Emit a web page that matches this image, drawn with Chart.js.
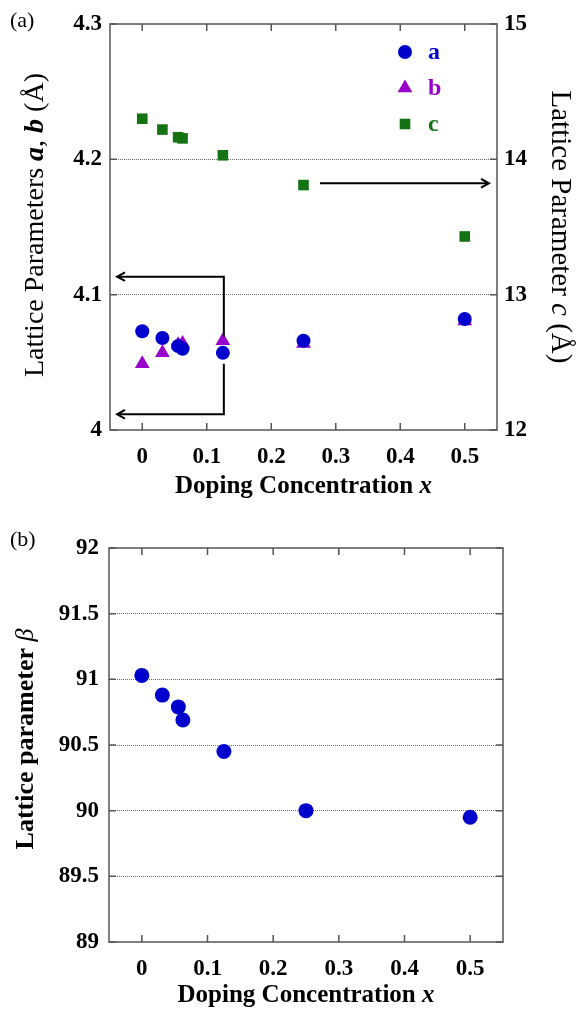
<!DOCTYPE html>
<html>
<head>
<meta charset="utf-8">
<script src="https://cdn.jsdelivr.net/npm/chart.js@4.4.0/dist/chart.umd.min.js"></script>
<style>
  body { margin: 0; background: #fff; }
  .panel { position: absolute; left: 0; width: 585px; }
  #top { top: 0; height: 505px; }
  #bottom { top: 505px; height: 506px; }
</style>
</head>
<body>
<div class="panel" id="top"><canvas id="chartA"></canvas></div>
<div class="panel" id="bottom"><canvas id="chartB"></canvas></div>
<script>
// doping concentration x and the fitted lattice constants
const doping = [0, 0.03125, 0.0556, 0.0625, 0.125, 0.25, 0.5];
const latticeA = [4.073, 4.068, 4.062, 4.060, 4.057, 4.066, 4.082];
const latticeB = [4.049, 4.057, 4.063, 4.064, 4.066, 4.064, 4.0805];
const latticeC = [14.30, 14.22, 14.163, 14.155, 14.03, 13.81, 13.43];
const beta = [91.03, 90.88, 90.79, 90.69, 90.45, 90.00, 89.95];

const xTicks = [0, 0.1, 0.2, 0.3, 0.4, 0.5];
const abTicks = [4, 4.1, 4.2, 4.3];
const cTicks = [12, 13, 14, 15];
const betaTicks = [89, 89.5, 90, 90.5, 91, 91.5, 92];

const BLUE = '#0000cd';
const PURPLE = '#9a00cc';
const GREEN = '#137313';
const SERIF = '"Liberation Serif", "Times New Roman", serif';
const tickFont = { family: SERIF, size: 23, weight: 'bold' };

function fixedTicks(values) {
  return scale => { scale.ticks = values.map(v => ({ value: v })); };
}

// dotted grid only between the outer ticks
function innerGrid(min, max) {
  return c => (c.tick && c.tick.value > min && c.tick.value < max) ? '#6b6b6b' : 'rgba(0,0,0,0)';
}

function points(ys) {
  return doping.map((x, i) => ({ x: x, y: ys[i] }));
}

function richText(ctx, parts, x, y, angle, size, weight) {
  ctx.save();
  ctx.translate(x, y);
  ctx.rotate(angle);
  const fonts = parts.map(p => (p.italic ? 'italic ' : '') + (p.weight || weight) + ' ' + size + 'px ' + SERIF);
  let total = 0;
  const widths = parts.map((p, i) => {
    ctx.font = fonts[i];
    const w = ctx.measureText(p.text).width;
    total += w;
    return w;
  });
  ctx.fillStyle = '#000';
  ctx.textAlign = 'left';
  ctx.textBaseline = 'alphabetic';
  let cx = -total / 2;
  parts.forEach((p, i) => {
    ctx.font = fonts[i];
    ctx.fillText(p.text, cx, 0);
    cx += widths[i];
  });
  ctx.restore();
}

function marker(ctx, style, x, y, r, color) {
  ctx.fillStyle = color;
  ctx.beginPath();
  if (style === 'circle') {
    ctx.arc(x, y, r, 0, Math.PI * 2);
  } else if (style === 'triangle') {
    ctx.moveTo(x, y - r);
    ctx.lineTo(x + r * 0.866, y + r * 0.5);
    ctx.lineTo(x - r * 0.866, y + r * 0.5);
    ctx.closePath();
  } else {
    const s = r * Math.SQRT1_2;
    ctx.rect(x - s, y - s, 2 * s, 2 * s);
  }
  ctx.fill();
}

function arrow(ctx, pts) {
  ctx.beginPath();
  ctx.moveTo(pts[0][0], pts[0][1]);
  for (let i = 1; i < pts.length; i++) ctx.lineTo(pts[i][0], pts[i][1]);
  ctx.stroke();
  const [x1, y1] = pts[pts.length - 2];
  const [x2, y2] = pts[pts.length - 1];
  const ang = Math.atan2(y2 - y1, x2 - x1);
  ctx.beginPath();
  ctx.moveTo(x2 - 9 * Math.cos(ang - 0.5), y2 - 9 * Math.sin(ang - 0.5));
  ctx.lineTo(x2, y2);
  ctx.lineTo(x2 - 9 * Math.cos(ang + 0.5), y2 - 9 * Math.sin(ang + 0.5));
  ctx.stroke();
}

// frame, inward ticks, titles, legend and arrows for one panel
function makeDecor(cfg) {
  return {
    id: 'decor',
    beforeDatasetsDraw(chart) {
      const { ctx, chartArea: a, scales } = chart;
      ctx.save();
      ctx.strokeStyle = '#555';
      ctx.lineWidth = 1.5;
      ctx.strokeRect(a.left, a.top, a.right - a.left, a.bottom - a.top);
      ctx.beginPath();
      scales.x.ticks.forEach(t => {
        const px = scales.x.getPixelForValue(t.value);
        ctx.moveTo(px, a.bottom); ctx.lineTo(px, a.bottom - 7);
        ctx.moveTo(px, a.top); ctx.lineTo(px, a.top + 7);
      });
      scales.y.ticks.forEach(t => {
        const py = scales.y.getPixelForValue(t.value);
        ctx.moveTo(a.left, py); ctx.lineTo(a.left + 7, py);
        ctx.moveTo(a.right, py); ctx.lineTo(a.right - 7, py);
      });
      ctx.stroke();
      ctx.restore();
    },
    afterDraw(chart) {
      const { ctx, chartArea: a } = chart;
      ctx.save();
      ctx.font = '22px ' + SERIF;
      ctx.fillStyle = '#000';
      ctx.textAlign = 'left';
      ctx.textBaseline = 'alphabetic';
      ctx.fillText(cfg.letter, 10, cfg.letterY);

      const midX = (a.left + a.right) / 2;
      const midY = (a.top + a.bottom) / 2;
      cfg.titles.forEach(t => {
        const shift = t.shift || 0;
        if (t.side === 'bottom') richText(ctx, t.parts, midX + shift, a.bottom + t.offset, 0, t.size, t.weight);
        if (t.side === 'left') richText(ctx, t.parts, a.left - t.offset, midY + shift, -Math.PI / 2, t.size, t.weight);
        if (t.side === 'right') richText(ctx, t.parts, a.right + t.offset, midY + shift, Math.PI / 2, t.size, t.weight);
      });

      if (cfg.legend) {
        const lx = a.right - cfg.legend.right;
        chart.data.datasets.forEach((ds, i) => {
          const ly = a.top + cfg.legend.top + i * cfg.legend.gap;
          marker(ctx, ds.pointStyle, lx, ly, ds.pointRadius, ds.backgroundColor);
          ctx.font = 'bold 24px ' + SERIF;
          ctx.fillStyle = ds.backgroundColor;
          ctx.textBaseline = 'middle';
          ctx.fillText(ds.label, lx + 23, ly + 1);
        });
      }

      ctx.strokeStyle = '#000';
      ctx.lineWidth = 2;
      (cfg.arrows || []).forEach(ar => {
        const sx = chart.scales.x, sy = chart.scales[ar.axis];
        arrow(ctx, ar.path.map(p => [sx.getPixelForValue(p[0]), sy.getPixelForValue(p[1])]));
      });
      ctx.restore();
    }
  };
}

function xScale(height) {
  return {
    type: 'linear', min: -0.05, max: 0.55,
    afterBuildTicks: fixedTicks(xTicks),
    afterFit: s => { s.height = height; },
    grid: { display: false },
    border: { display: false },
    ticks: { font: tickFont, color: '#000', padding: 5, callback: v => String(v) }
  };
}

Chart.defaults.font.family = SERIF;

new Chart(document.getElementById('chartA'), {
  type: 'scatter',
  data: {
    datasets: [
      { label: 'a', data: points(latticeA), yAxisID: 'y', pointStyle: 'circle', pointRadius: 7,
        backgroundColor: BLUE, borderColor: BLUE, borderWidth: 0 },
      { label: 'b', data: points(latticeB), yAxisID: 'y', pointStyle: 'triangle', pointRadius: 8.5,
        backgroundColor: PURPLE, borderColor: PURPLE, borderWidth: 0 },
      { label: 'c', data: points(latticeC), yAxisID: 'y1', pointStyle: 'rect', pointRadius: 7.5,
        backgroundColor: GREEN, borderColor: GREEN, borderWidth: 0 }
    ]
  },
  options: {
    responsive: true, maintainAspectRatio: false, animation: false, devicePixelRatio: 1,
    layout: { padding: { top: 24, left: 0, right: 0, bottom: 0 } },
    plugins: { legend: { display: false }, tooltip: { enabled: false } },
    scales: {
      x: xScale(75),
      y: {
        position: 'left', min: 4, max: 4.3,
        afterBuildTicks: fixedTicks(abTicks),
        afterFit: s => { s.width = 110; },
        grid: { color: innerGrid(4, 4.3), lineWidth: 1, drawTicks: false },
        border: { display: false, dash: [1, 1] },
        ticks: { font: tickFont, color: '#000', padding: 8, callback: v => String(v) }
      },
      y1: {
        position: 'right', min: 12, max: 15,
        afterBuildTicks: fixedTicks(cTicks),
        afterFit: s => { s.width = 88; },
        grid: { drawOnChartArea: false, drawTicks: false },
        border: { display: false },
        ticks: { font: tickFont, color: '#000', padding: 7, callback: v => String(v) }
      }
    }
  },
  plugins: [makeDecor({
    letter: '(a)', letterY: 27,
    titles: [
      { side: 'bottom', offset: 63, size: 25, weight: 'bold',
        parts: [{ text: 'Doping Concentration ' }, { text: 'x', italic: true }] },
      { side: 'left', offset: 67, size: 28, weight: 'normal', shift: -2,
        parts: [{ text: 'Lattice Parameters ' }, { text: 'a', italic: true, weight: 'bold' }, { text: ', ' },
                { text: 'b', italic: true, weight: 'bold' }, { text: ' (Å)' }] },
      { side: 'right', offset: 55, size: 29, weight: 'normal',
        parts: [{ text: 'Lattice Parameter ' }, { text: 'c', italic: true }, { text: ' (Å)' }] }
    ],
    legend: { right: 92, top: 28, gap: 36 },
    arrows: [
      { axis: 'y', path: [[0.1265, 4.069], [0.1265, 4.1133], [-0.039, 4.1133]] },
      { axis: 'y', path: [[0.1265, 4.049], [0.1265, 4.0116], [-0.039, 4.0116]] },
      { axis: 'y1', path: [[0.2755, 13.823], [0.5375, 13.823]] }
    ]
  })]
});

new Chart(document.getElementById('chartB'), {
  type: 'scatter',
  data: {
    datasets: [
      { label: 'β', data: points(beta), pointStyle: 'circle', pointRadius: 7.5,
        backgroundColor: BLUE, borderColor: BLUE, borderWidth: 0 }
    ]
  },
  options: {
    responsive: true, maintainAspectRatio: false, animation: false, devicePixelRatio: 1,
    layout: { padding: { top: 43, left: 0, right: 82, bottom: 0 } },
    plugins: { legend: { display: false }, tooltip: { enabled: false } },
    scales: {
      x: xScale(69),
      y: {
        position: 'left', min: 89, max: 92,
        afterBuildTicks: fixedTicks(betaTicks),
        afterFit: s => { s.width = 109; },
        grid: { color: innerGrid(89, 92), lineWidth: 1, drawTicks: false },
        border: { display: false, dash: [1, 1] },
        ticks: { font: tickFont, color: '#000', padding: 10, callback: v => String(v) }
      }
    }
  },
  plugins: [makeDecor({
    letter: '(b)', letterY: 41,
    titles: [
      { side: 'bottom', offset: 60, size: 25, weight: 'bold',
        parts: [{ text: 'Doping Concentration ' }, { text: 'x', italic: true }] },
      { side: 'left', offset: 76, size: 26, weight: 'bold', shift: -6,
        parts: [{ text: 'Lattice parameter ' }, { text: 'β', italic: true, weight: 'normal' }] }
    ]
  })]
});
</script>
</body>
</html>
